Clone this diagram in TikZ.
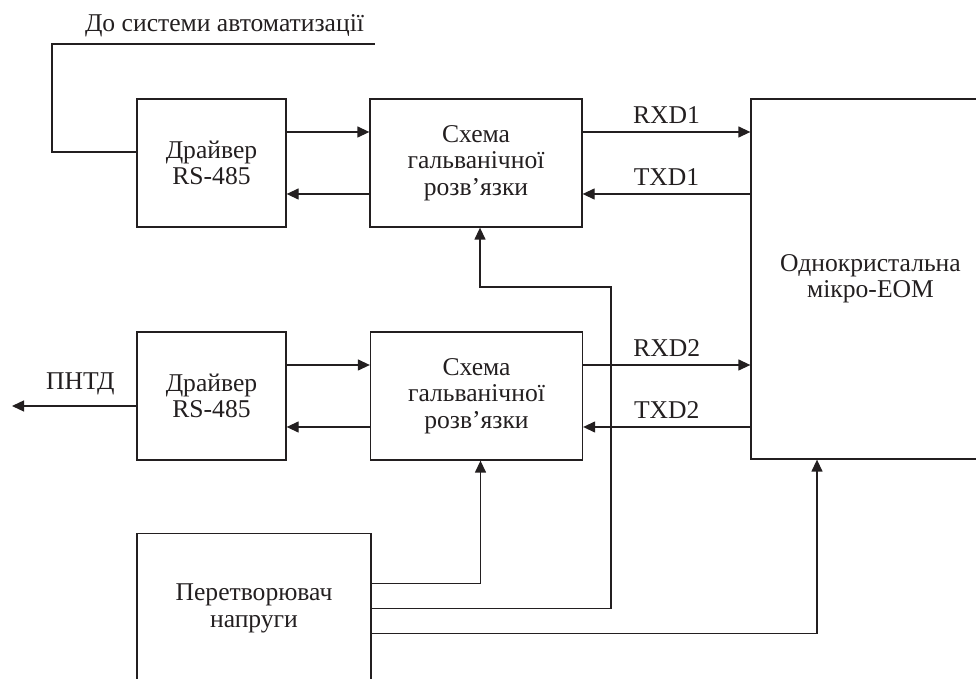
\documentclass[tikz,border=0pt]{standalone}
\usepackage{fontspec}
\setmainfont{Liberation Serif}
\usepackage{tikz}
\usetikzlibrary{arrows.meta,positioning,calc}
\definecolor{inkgray}{RGB}{35,31,32}
\newcommand{\diagfont}{\fontsize{12.8pt}{13.2pt}\selectfont}
\tikzset{
  blk/.style  ={rectangle, draw=inkgray, line width=0.65pt, align=center,
                inner sep=0pt, text=inkgray, font=\diagfont},
  drvbox/.style={blk, minimum width=74.5pt, minimum height=64pt},
  galvbox/.style={blk, minimum width=106pt, minimum height=64pt},
  flow/.style ={-{Triangle[length=6pt,width=5.5pt]}, line width=0.65pt, draw=inkgray},
  wire/.style ={line width=0.65pt, draw=inkgray},
  sig/.style  ={font=\diagfont, text=inkgray, inner sep=4pt}
}

\begin{document}
\begin{tikzpicture}[x=0.5pt, y=-0.5pt, font=\diagfont]
\clip (0,0) rectangle (976,679);
% blocks
\node[drvbox] (drvA) at (211.5,163) {Драйвер\\RS-485};
\node[galvbox] (galvA) at (476,163) {Схема\\гальванічної\\розв’язки};
\node[drvbox] (drvB) at (211.5,396) {Драйвер\\RS-485};
\node[galvbox] (galvB) at (476.5,396) {Схема\\гальванічної\\розв’язки};
\node[blk, minimum width=119.5pt, minimum height=180pt] (mcu) at (870.5,279) {Однокристальна\\мікро-ЕОМ};
\node[blk, minimum width=117pt, minimum height=75pt] (conv) at (254,608.5) {Перетворювач\\напруги};

% link to automation system
\node[sig, anchor=base, inner sep=0pt] (auto) at (224.5,32) {До системи автоматизації};
\coordinate (busL) at (52,44);
\coordinate (busR) at (375,44);
\coordinate (pntd) at (12,406);
\coordinate (bend) at (611,287);

\draw[wire] ([yshift=5.5pt]drvA.west) -| (busL) -- (busR);

% driver <-> isolation
\draw[flow] ([yshift=15.5pt]drvA.east) -- ([yshift=15.5pt]galvA.west);
\draw[flow] ([yshift=-15.5pt]galvA.west) -- ([yshift=-15.5pt]drvA.east);
\draw[flow] ([yshift=15.5pt]drvB.east) -- ([yshift=15.5pt]galvB.west);
\draw[flow] ([yshift=-15.5pt]galvB.west) -- ([yshift=-15.5pt]drvB.east);

% isolation <-> MCU
\draw[flow] ([yshift=15.5pt]galvA.east) -- node[sig, above]{RXD1} ([yshift=15.5pt]galvA.east -| mcu.west);
\draw[flow] ([yshift=-15.5pt]galvA.east -| mcu.west) -- node[sig, above]{TXD1} ([yshift=-15.5pt]galvA.east);
\draw[flow] ([yshift=15.5pt]galvB.east) -- node[sig, above]{RXD2} ([yshift=15.5pt]galvB.east -| mcu.west);
\draw[flow] ([yshift=-15.5pt]galvB.east -| mcu.west) -- node[sig, above]{TXD2} ([yshift=-15.5pt]galvB.east);

% output
\draw[flow] ([yshift=-5pt]drvB.west) -- node[sig, above=1pt, pos=0.45]{ПНТД} (pntd);

% power supply
\draw[flow] ([yshift=12.5pt]conv.east) -| ([xshift=2pt]galvB.south);
\draw[flow] (conv.east) -| (bend) -| ([xshift=2pt]galvA.south);
\draw[flow] ([yshift=-12.5pt]conv.east) -| ([xshift=-26.75pt]mcu.south);
\end{tikzpicture}
\end{document}
